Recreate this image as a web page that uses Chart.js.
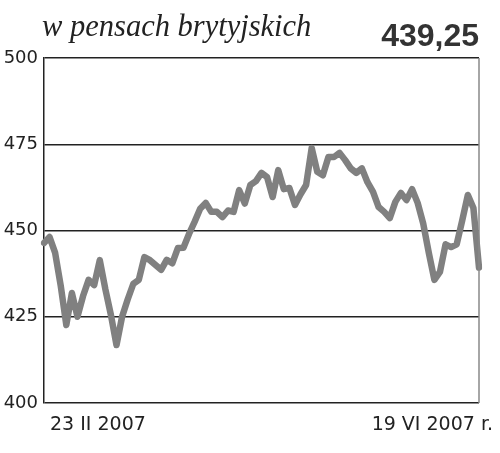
<!DOCTYPE html>
<html>
<head>
<meta charset="utf-8">
<script src="https://cdn.jsdelivr.net/npm/chart.js@4/dist/chart.umd.min.js"></script>
<style>
  html, body { margin: 0; padding: 0; background: #fff; }
  #wrap { position: relative; width: 500px; height: 453px; }
  #title {
    position: absolute; left: 42px; top: 9px;
    font-family: "Liberation Serif", "DejaVu Serif", serif; font-style: italic;
    font-size: 30.5px; color: #222; white-space: nowrap;
  }
  #last {
    position: absolute; right: 21px; top: 17px;
    font-family: "Liberation Sans", Arial, sans-serif; font-weight: bold;
    font-size: 32px; color: #333; white-space: nowrap;
  }
</style>
</head>
<body>
<div id="wrap">
  <canvas id="chart"></canvas>
  <div id="title">w pensach brytyjskich</div>
  <div id="last">439,25</div>
</div>
<script>
// notowania dzienne, 23 II - 19 VI 2007
const prices = [
  446.4, 448.1, 443.5, 434, 422.6, 431.9, 425, 431, 435.7, 434.2,
  441.4, 433, 425.5, 416.8, 425, 430, 434.5, 435.7, 442.3, 441.4,
  440, 438.6, 441.5, 440.5, 444.9, 445, 449, 452.5, 456.3, 458,
  455.4, 455.4, 453.9, 455.8, 455.4, 461.7, 457.8, 463.2, 464.3, 466.7,
  465.5, 459.7, 467.5, 462, 462.3, 457.4, 460.5, 463.2, 473.9, 467,
  466, 471.3, 471.3, 472.5, 470.4, 468, 466.7, 468, 464, 461.2,
  456.8, 455.4, 453.6, 458.3, 460.9, 458.8, 462, 458, 452, 443.5,
  435.7, 438, 446, 445.2, 446, 453, 460.3, 456.5, 439.25
];
const days = prices.map((_, i) => i + 1);
const yTicks = [400, 425, 450, 475, 500];
const dateLabels = ['23 II 2007', '19 VI 2007 r.'];

const frameAndDates = {
  id: 'frameAndDates',
  afterDraw(chart) {
    const { ctx, chartArea } = chart;
    ctx.save();
    // prawa krawedz ramki
    ctx.strokeStyle = '#888';
    ctx.lineWidth = 1.5;
    ctx.beginPath();
    ctx.moveTo(chartArea.right, chartArea.top);
    ctx.lineTo(chartArea.right, chartArea.bottom);
    ctx.stroke();
    // daty pod osia
    ctx.fillStyle = '#222';
    ctx.font = '19px "DejaVu Sans", sans-serif';
    ctx.textBaseline = 'middle';
    ctx.textAlign = 'left';
    ctx.fillText(dateLabels[0], chartArea.left + 6, chartArea.bottom + 22);
    ctx.textAlign = 'right';
    ctx.fillText(dateLabels[1], chartArea.right + 14, chartArea.bottom + 22);
    ctx.restore();
  }
};

new Chart(document.getElementById('chart'), {
  type: 'line',
  data: {
    labels: days,
    datasets: [{
      data: prices,
      borderColor: '#808080',
      borderWidth: 6.5,
      borderJoinStyle: 'round',
      borderCapStyle: 'round',
      pointRadius: 0,
      tension: 0,
      fill: false
    }]
  },
  options: {
    responsive: true,
    maintainAspectRatio: false,
    animation: false,
    layout: { padding: { top: 58, right: 21, bottom: 50, left: 0 } },
    plugins: {
      legend: { display: false },
      tooltip: { enabled: false }
    },
    scales: {
      x: { display: false },
      y: {
        min: 400,
        max: 500,
        afterBuildTicks(axis) {
          axis.ticks = yTicks.map(v => ({ value: v }));
        },
        afterFit(axis) {
          axis.width = 44;
        },
        ticks: {
          color: '#222',
          padding: 6,
          font: { family: 'DejaVu Sans', size: 18 }
        },
        grid: {
          color: '#222',
          lineWidth: 1.5,
          drawTicks: false
        },
        border: { display: true, color: '#222', width: 1.5 }
      }
    }
  },
  plugins: [frameAndDates]
});
</script>
</body>
</html>
